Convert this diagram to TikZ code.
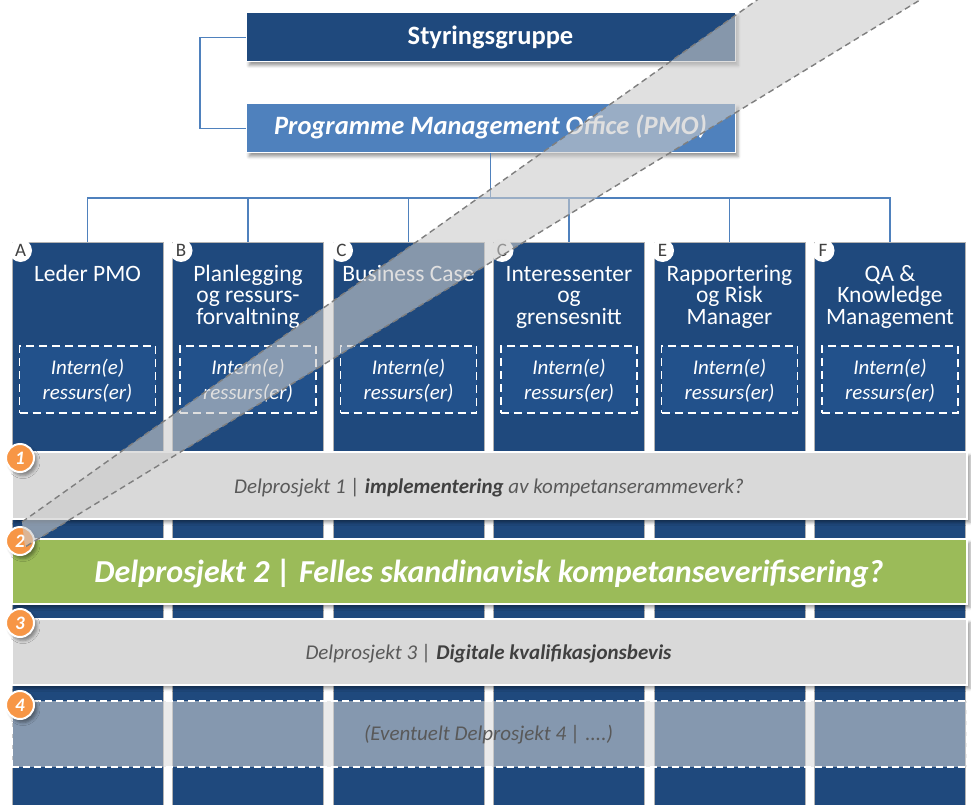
\documentclass[tikz,border=0pt]{standalone}
\usepackage{fontspec}
\setmainfont{Carlito}
\usetikzlibrary{shadows.blur}
\definecolor{dkblue}{HTML}{1F497D}
\definecolor{mdblue}{HTML}{4F81BD}
\definecolor{inblue}{HTML}{22518B}
\definecolor{bandgray}{HTML}{D9D9D9}
\definecolor{ovgray}{HTML}{CBCBCB}
\definecolor{grn}{HTML}{9BBB59}
\definecolor{orng}{HTML}{F79646}
\definecolor{txtgray}{HTML}{595959}
\definecolor{txtdark}{HTML}{404040}
\definecolor{dashgray}{HTML}{7F7F7F}
\newcommand{\fsTop}{\fontsize{26.5}{30}\selectfont\bfseries}
\newcommand{\fsCol}{\fontsize{23.5}{21.7}\selectfont\lineskiplimit=-30pt\relax}
\newcommand{\fsInt}{\fontsize{21}{25}\selectfont\itshape\lineskiplimit=-30pt\relax}
\newcommand{\fsLet}{\fontsize{19}{22}\selectfont}
\newcommand{\fsBand}{\fontsize{21}{25}\selectfont\itshape}
\newcommand{\fsBig}{\fontsize{32}{38}\selectfont\bfseries\itshape}
\newcommand{\fsNum}{\fontsize{19}{22}\selectfont\bfseries\itshape}
\begin{document}
\begin{tikzpicture}[x=1pt,y=-1pt,
  softshadow/.style={blur shadow={shadow xshift=3pt,shadow yshift=-3.5pt,shadow blur radius=3pt,shadow opacity=40}},
  topbox/.style={draw=white,line width=1pt,minimum width=489pt,minimum height=49pt,inner sep=0pt,text=white,softshadow},
  conn/.style={draw=mdblue,line width=1.5pt},
  colbox/.style={draw=black!30,line width=0.8pt,fill=dkblue,minimum width=151pt,minimum height=575pt,inner sep=0pt,anchor=north},
  letcirc/.style={circle,fill=white,minimum size=23pt,inner sep=0pt,text=txtdark,font=\fsLet},
  coltitle/.style={anchor=north,align=center,inner sep=0pt,text=white,font=\fsCol},
  intbox/.style={draw=white,dash pattern=on 8pt off 5pt,line width=1.8pt,fill=inblue,minimum width=136pt,minimum height=67pt,inner sep=0pt,align=center,text=white,font=\fsInt},
  bandbox/.style={draw=white,line width=1.5pt,minimum width=955pt,inner sep=0pt,softshadow},
  bandtxt/.style={anchor=base,inner sep=0pt,font=\fsBand,text=txtgray},
  numcirc/.style={circle,fill=orng,draw=white,line width=2pt,minimum size=28pt,inner sep=0pt,text=white,font=\fsNum,softshadow},
  ovline/.style={draw=dashgray,line width=1.4pt,dash pattern=on 6pt off 4pt}
]
\useasboundingbox (0,0) rectangle (971,805);
\clip (0,0) rectangle (971,805);

% top boxes
\node[topbox,fill=dkblue,font=\fsTop,text height=16.7pt,text depth=1.7pt] (sg) at (490.5,37.5) {Styringsgruppe};
\node[topbox,fill=mdblue,font=\fsTop\itshape,text height=17pt,text depth=4pt] (pmo) at (490.5,128.5) {Programme Management Office (PMO)};

\coordinate (lft) at (200,37.5);
\draw[conn] (sg.west) -- (lft) |- (pmo.west);
\coordinate (bus) at (490.5,198);
\draw[conn] (pmo.south) -- (bus);

% columns
\foreach \i/\Lt/\T in {0/A/{Leder PMO},1/B/{Planlegging\\og ressurs-\\forvaltning},2/C/{Business Case},3/C/{Interessenter\\og\\grensesnitt},4/E/{Rapportering\\og Risk\\Manager},5/F/{QA \&\\Knowledge\\Management}}{
  \pgfmathsetmacro{\cx}{87.5+160.5*\i}
  \draw[conn] (\cx,242) |- (bus);
  \node[colbox] (col\i) at (\cx,242) {};
  \node[letcirc] (let\i) at (\cx-67,250.5) {\Lt};
  \node[coltitle] (tit\i) at (\cx,264) {\rule{0pt}{17pt}\T};
  \node[intbox] (int\i) at (\cx,379.5) {\rule{0pt}{21.5pt}Intern(e)\\\strut ressurs(er)};
}

% bands
\node[bandbox,fill=bandgray,minimum height=67pt] (band1) at (489.5,485.5) {};
\node[bandtxt] (band1t) at (489,493) {Delprosjekt 1 | {\color{txtdark}\bfseries implementering} av kompetanserammeverk?};

\node[bandbox,fill=grn,minimum height=65pt] (band2) at (489.5,571.5) {};
\node[bandtxt,font=\fsBig,text=white] (band2t) at (489,582) {Delprosjekt 2 | Felles skandinavisk kompetanseverifisering?};

\node[bandbox,fill=bandgray,minimum height=66pt] (band3) at (489.5,652) {};
\node[bandtxt] (band3t) at (488.5,659) {Delprosjekt 3 | {\color{txtdark}\bfseries Digitale kvalifikasjonsbevis}};

\node[fill=bandgray,fill opacity=0.55,draw=white,draw opacity=1,line width=2pt,dash pattern=on 7pt off 4pt,minimum width=955pt,minimum height=66pt,inner sep=0pt] (band4) at (489.5,734) {};
\node[bandtxt,text=txtgray] (band4t) at (488.5,740.5) {(Eventuelt Delprosjekt 4 | ....)};

% number circles
\node[numcirc] (n1) at (20,458) {1};
\node[numcirc] (n2) at (20,541) {2};
\node[numcirc] (n3) at (20,623) {3};
\node[numcirc] (n4) at (20,705) {4};

% diagonal overlay ribbon
\fill[ovgray,opacity=0.6] (785.2,-20) -- (22,522) -- (25,547) -- (952.7,-20) -- cycle;
\draw[ovline] (785.2,-20) -- (22,522);
\draw[ovline] (952.7,-20) -- (25,547);
\end{tikzpicture}
\end{document}
